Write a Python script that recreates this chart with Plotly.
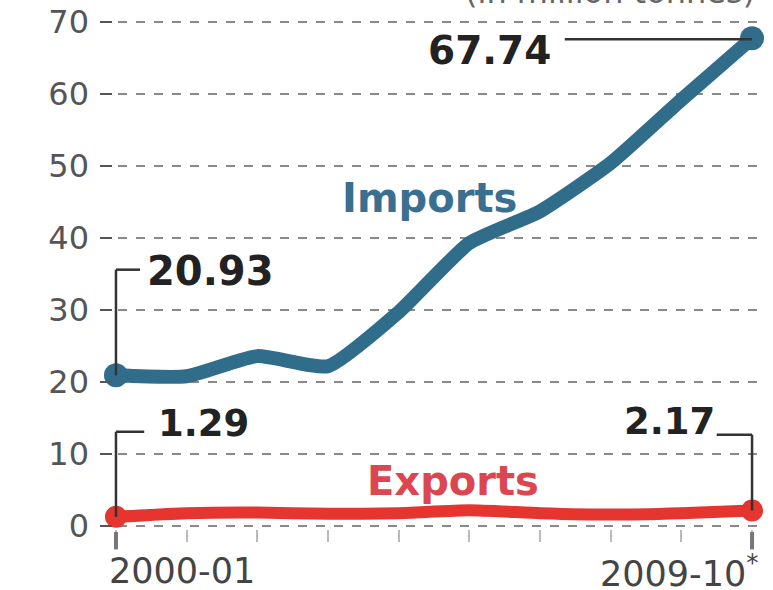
import plotly.graph_objects as go

years = ["2000-01", "2001-02", "2002-03", "2003-04", "2004-05",
         "2005-06", "2006-07", "2007-08", "2008-09", "2009-10*"]
imports = [20.93, 20.8, 23.6, 22.2, 29.7, 39.3, 43.7, 50.4, 59.2, 67.74]
exports = [1.29, 1.8, 1.9, 1.7, 1.8, 2.2, 1.8, 1.6, 1.8, 2.17]
y_ticks = [0, 10, 20, 30, 40, 50, 60, 70]
unit_label = "(in million tonnes)"

IMP = "#2f6d8a"
EXP = "#e5352e"
FONT = "DejaVu Sans"

fig = go.Figure()
xs = list(range(len(years)))
fig.add_trace(go.Scatter(
    x=xs, y=imports, mode="lines",
    line=dict(color=IMP, width=14, shape="spline", smoothing=0.5),
    cliponaxis=False, hoverinfo="skip"))
fig.add_trace(go.Scatter(
    x=xs, y=exports, mode="lines",
    line=dict(color=EXP, width=12, shape="spline", smoothing=0.5),
    cliponaxis=False, hoverinfo="skip"))
last = len(years) - 1
fig.add_trace(go.Scatter(
    x=[0, last], y=[imports[0], imports[-1]], mode="markers",
    marker=dict(color=IMP, size=24), cliponaxis=False, hoverinfo="skip"))
fig.add_trace(go.Scatter(
    x=[0, last], y=[exports[0], exports[-1]], mode="markers",
    marker=dict(color=EXP, size=22), cliponaxis=False, hoverinfo="skip"))

line_c = "#333333"
lw = 2.5
shapes = [
    dict(type="line", xref="x", yref="y", x0=0, x1=0, y0=imports[0], y1=35.6,
         line=dict(color=line_c, width=lw)),
    dict(type="line", xref="x", yref="y", x0=0, x1=0.34, y0=35.6, y1=35.6,
         line=dict(color=line_c, width=lw)),
    dict(type="line", xref="x", yref="y", x0=6.35, x1=last, y0=67.6, y1=67.6,
         line=dict(color=line_c, width=lw)),
    dict(type="line", xref="x", yref="y", x0=0, x1=0, y0=exports[0], y1=13.1,
         line=dict(color=line_c, width=lw)),
    dict(type="line", xref="x", yref="y", x0=0, x1=0.4, y0=13.1, y1=13.1,
         line=dict(color=line_c, width=lw)),
    dict(type="line", xref="x", yref="y", x0=8.5, x1=last, y0=12.7, y1=12.7,
         line=dict(color=line_c, width=lw)),
    dict(type="line", xref="x", yref="y", x0=last, x1=last, y0=12.7, y1=exports[-1],
         line=dict(color=line_c, width=lw)),
    dict(type="line", xref="x", yref="paper", x0=0, x1=0, y0=-0.006, y1=-0.04,
         line=dict(color="#777777", width=4)),
    dict(type="line", xref="x", yref="paper", x0=last, x1=last, y0=-0.006, y1=-0.04,
         line=dict(color="#777777", width=4)),
]

annotations = [
    dict(x=6.18, y=66.0, xref="x", yref="y", text="<b>67.74</b>", showarrow=False,
         xanchor="right", yanchor="middle", font=dict(family=FONT, size=39, color="#222")),
    dict(x=0.41, y=35.4, xref="x", yref="y", text="<b>20.93</b>", showarrow=False,
         xanchor="left", yanchor="middle", font=dict(family=FONT, size=40, color="#222")),
    dict(x=0.56, y=14.3, xref="x", yref="y", text="<b>1.29</b>", showarrow=False,
         xanchor="left", yanchor="middle", font=dict(family=FONT, size=37, color="#222")),
    dict(x=8.5, y=14.5, xref="x", yref="y", text="<b>2.17</b>", showarrow=False,
         xanchor="right", yanchor="middle", font=dict(family=FONT, size=37, color="#222")),
    dict(x=4.44, y=45.6, xref="x", yref="y", text="<b>Imports</b>", showarrow=False,
         xanchor="center", yanchor="middle", font=dict(family=FONT, size=40, color="#3a6f8f")),
    dict(x=4.77, y=6.2, xref="x", yref="y", text="<b>Exports</b>", showarrow=False,
         xanchor="center", yanchor="middle", font=dict(family=FONT, size=40, color="#dc4650")),
    dict(x=0.0107, y=-0.082, xref="paper", yref="paper", text=years[0], showarrow=False,
         xanchor="left", yanchor="middle", font=dict(family=FONT, size=35, color="#444")),
    dict(x=1.006, y=-0.082, xref="paper", yref="paper",
         text=years[-1].replace("*", "<sup>*</sup>"), showarrow=False,
         xanchor="right", yanchor="middle", font=dict(family=FONT, size=35, color="#444")),
    dict(x=1.0, y=1.0127, xref="paper", yref="paper", text=unit_label, showarrow=False,
         xanchor="right", yanchor="bottom", font=dict(family=FONT, size=32, color="#666")),
]

fig.update_layout(
    width=773, height=590,
    margin=dict(l=100, r=16, t=19, b=61, autoexpand=False),
    paper_bgcolor="white", plot_bgcolor="white",
    showlegend=False,
    shapes=shapes, annotations=annotations,
    xaxis=dict(range=[-0.226, 9.07], tickvals=xs,
               showticklabels=False, ticks="outside", ticklen=12, tickwidth=2,
               tickcolor="#bbbbbb", showgrid=False, zeroline=False, showline=False,
               fixedrange=True, automargin=False),
    yaxis=dict(range=[-0.4, 70.4], tickvals=y_ticks, ticks="inside", ticklen=12,
               tickwidth=2, tickcolor="#555555", showgrid=True,
               gridcolor="#8a8a8a", griddash="dash", gridwidth=1.5,
               zeroline=False, showline=False, ticklabelstandoff=10,
               tickfont=dict(family=FONT, size=32, color="#555"), fixedrange=True,
               automargin=False),
)

fig.write_html("out.html", config={"displayModeBar": False},
               post_script="document.body.style.margin='0';")
